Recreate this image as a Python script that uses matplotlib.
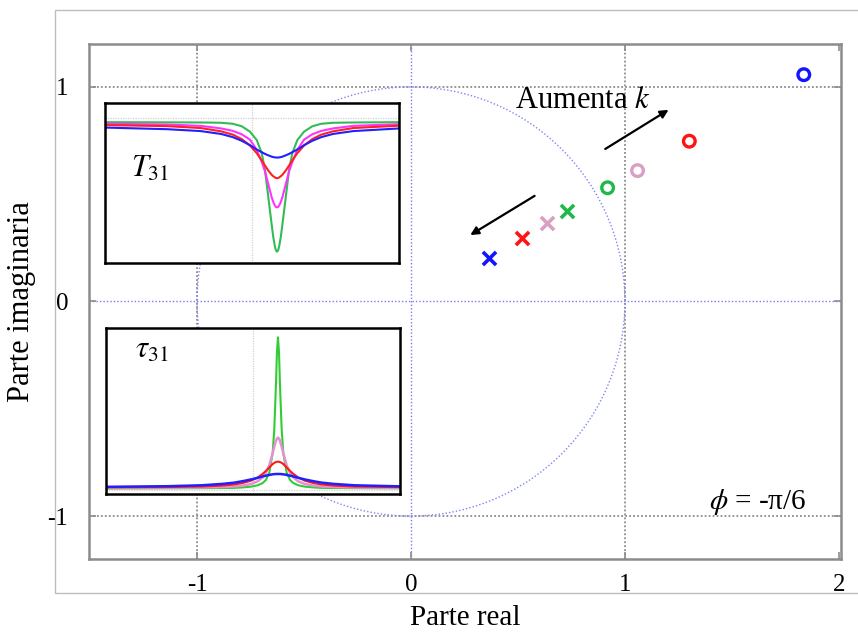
import matplotlib
matplotlib.use("Agg")
import matplotlib.pyplot as plt
from matplotlib.patches import Circle, Rectangle

plt.rcParams['font.family'] = ['Liberation Serif', 'DejaVu Serif']
plt.rcParams['mathtext.fontset'] = 'stix'
plt.rcParams['axes.unicode_minus'] = False

# poles (o) and zeros (x); colour order blue, red, pink, green
pole_re = [1.836, 1.301, 1.059, 0.919]
pole_im = [1.057, 0.747, 0.610, 0.530]
zero_re = [0.366, 0.517, 0.634, 0.729]
zero_im = [0.204, 0.295, 0.365, 0.420]
mark_colors = ['#1414ff', '#ff1414', '#d9a0c4', '#1fb84a']

x_ticks = [-1, 0, 1, 2]
x_ticklabels = ['-1', '0', '1', '2']
y_ticks = [-1, 0, 1]
y_ticklabels = ['-1', '0', '1']

# inset curves (shared frequency axis)
freq = [-1.0, -0.58, -0.35, -0.21, -0.13, -0.07, -0.014, 0.032, 0.066, 0.088,
        0.111, 0.134, 0.145, 0.156, 0.163, 0.17, 0.177, 0.184, 0.195, 0.206,
        0.229, 0.252, 0.274, 0.308, 0.354, 0.41, 0.47, 0.55, 0.69, 1.0]

T31_green = [0.968, 0.967, 0.966, 0.964, 0.957, 0.94, 0.903, 0.845, 0.755, 0.64,
             0.45, 0.26, 0.175, 0.112, 0.086, 0.078, 0.086, 0.112, 0.175, 0.26,
             0.45, 0.64, 0.755, 0.845, 0.903, 0.94, 0.957, 0.964, 0.966, 0.968]
T31_magenta = [0.957, 0.952, 0.943, 0.925, 0.908, 0.885, 0.848, 0.778, 0.695, 0.63,
               0.54, 0.45, 0.418, 0.394, 0.385, 0.382, 0.385, 0.394, 0.418, 0.45,
               0.54, 0.63, 0.695, 0.778, 0.848, 0.885, 0.908, 0.925, 0.943, 0.954]
T31_red = [0.948, 0.941, 0.928, 0.905, 0.882, 0.852, 0.808, 0.755, 0.705, 0.67,
           0.635, 0.606, 0.596, 0.588, 0.584, 0.583, 0.584, 0.588, 0.596, 0.606,
           0.635, 0.67, 0.705, 0.755, 0.808, 0.852, 0.882, 0.905, 0.928, 0.944]
T31_blue = [0.931, 0.92, 0.907, 0.887, 0.865, 0.84, 0.81, 0.78, 0.762, 0.75,
            0.74, 0.731, 0.728, 0.726, 0.725, 0.725, 0.725, 0.726, 0.728, 0.731,
            0.74, 0.75, 0.762, 0.78, 0.81, 0.84, 0.865, 0.887, 0.907, 0.925]

tau31_green = [0.01, 0.011, 0.012, 0.013, 0.014, 0.017, 0.022, 0.031, 0.046, 0.066,
               0.114, 0.245, 0.40, 0.68, 0.90, 1.0, 0.90, 0.68, 0.40, 0.245,
               0.114, 0.066, 0.046, 0.031, 0.022, 0.017, 0.014, 0.013, 0.012, 0.011]
tau31_pink = [0.014, 0.015, 0.0165, 0.02, 0.023, 0.029, 0.039, 0.057, 0.083, 0.113,
              0.163, 0.241, 0.285, 0.322, 0.337, 0.343, 0.337, 0.322, 0.285, 0.241,
              0.163, 0.113, 0.083, 0.057, 0.039, 0.029, 0.023, 0.02, 0.0165, 0.0145]
tau31_red = [0.0175, 0.0195, 0.023, 0.029, 0.036, 0.046, 0.061, 0.082, 0.106, 0.125,
             0.148, 0.170, 0.178, 0.183, 0.185, 0.186, 0.185, 0.183, 0.178, 0.170,
             0.148, 0.125, 0.106, 0.082, 0.061, 0.046, 0.036, 0.029, 0.023, 0.019]
tau31_blue = [0.021, 0.025, 0.031, 0.040, 0.048, 0.058, 0.069, 0.080, 0.089, 0.094,
              0.099, 0.103, 0.104, 0.105, 0.105, 0.105, 0.105, 0.105, 0.104, 0.103,
              0.099, 0.094, 0.089, 0.080, 0.069, 0.058, 0.048, 0.040, 0.031, 0.024]

fig = plt.figure(figsize=(8.58, 6.33), dpi=100)

# light grey border around the whole picture
fig.patches.append(Rectangle((0.064, 0.063), 1.0, 0.921, transform=fig.transFigure,
                             fill=False, edgecolor='#bdbdbd', linewidth=1.0))

ax = fig.add_axes([0.1037, 0.1169, 0.8765, 0.8136])
ax.set_xlim(-1.505, 2.01)
ax.set_ylim(-1.2, 1.2)

grey = '#8c8c8c'
for v in [-1, 1]:
    ax.axvline(v, color=grey, lw=1.3, ls=(0, (1, 1.2)), zorder=1)
    ax.axhline(v, color=grey, lw=1.3, ls=(0, (1, 1.2)), zorder=1)
ax.axvline(0, color='#7a7aee', lw=1.0, ls=(0, (1, 1.5)), zorder=1)
ax.axhline(0, color='#7a7aee', lw=1.0, ls=(0, (1, 1.5)), zorder=1)

ax.add_patch(Circle((0, 0), 1.0, fill=False, edgecolor='#7f86f2', lw=1.0,
                    ls=(0, (1, 1.5)), zorder=1))

for i in range(4):
    ax.scatter(pole_re[i], pole_im[i], s=70, marker='o', facecolors='none',
               edgecolors=mark_colors[i], linewidths=2.4, zorder=3)
    ax.scatter(zero_re[i], zero_im[i], s=90, marker='x', color=mark_colors[i],
               linewidths=2.6, zorder=3)

arrow = dict(arrowstyle='-|>', color='black', lw=1.6, mutation_scale=12)
ax.annotate('', xy=(1.215, 0.900), xytext=(0.897, 0.704), arrowprops=arrow)
ax.annotate('', xy=(0.266, 0.303), xytext=(0.589, 0.499), arrowprops=arrow)
ax.text(0.486, 0.90, 'Aumenta $k$', fontsize=22, ha='left', va='baseline')
ax.text(1.85, -0.965, r'$\phi$ = -π/6', fontsize=21, ha='right', va='baseline')

ax.set_xticks(x_ticks)
ax.set_xticklabels(x_ticklabels)
ax.set_yticks(y_ticks)
ax.set_yticklabels(y_ticklabels)
ax.tick_params(direction='in', length=5, width=1.2, color=grey, labelsize=18,
               top=True, right=True)
ax.tick_params(axis='x', pad=11)
ax.tick_params(axis='y', pad=15)
for s in ax.spines.values():
    s.set_color(grey)
    s.set_linewidth(1.8)

ax.set_xlabel('Parte real', fontsize=21, labelpad=6)
ax.set_ylabel('Parte imaginaria', fontsize=22, labelpad=8)

# inset 1: T31
ins1 = fig.add_axes([0.1224, 0.5845, 0.3427, 0.2528])
ins1.set_xlim(-1, 1)
ins1.set_ylim(0, 1.1)
ins1.axvline(0, color='#d0d0d0', lw=0.9, ls=(0, (1, 1)))
ins1.axhline(1.0, color='#d0d0d0', lw=0.9, ls=(0, (1, 1)))
ins1.plot(freq, T31_green, color='#33bb55', lw=1.5)
ins1.plot(freq, T31_magenta, color='#ff33ff', lw=1.5)
ins1.plot(freq, T31_red, color='#ff2020', lw=1.5)
ins1.plot(freq, T31_blue, color='#2020ff', lw=1.5)
ins1.text(0.088, 0.54, '$T_{31}$', transform=ins1.transAxes, fontsize=22,
          ha='left', va='baseline')

# inset 2: tau31
ins2 = fig.add_axes([0.1235, 0.2196, 0.3427, 0.2622])
ins2.set_xlim(-1, 1)
ins2.set_ylim(-0.026, 1.061)
ins2.axvline(0, color='#d0d0d0', lw=0.9, ls=(0, (1, 1)))
ins2.axhline(0.0, color='#d0d0d0', lw=0.9, ls=(0, (1, 1)))
ins2.plot(freq, tau31_green, color='#33cc33', lw=1.5)
ins2.plot(freq, tau31_pink, color='#e590d5', lw=1.8)
ins2.plot(freq, tau31_red, color='#ff1a1a', lw=1.5)
ins2.plot(freq, tau31_blue, color='#2020ff', lw=1.8)
ins2.text(0.099, 0.82, r'$\tau_{31}$', transform=ins2.transAxes, fontsize=22,
          ha='left', va='baseline')

for a in [ins1, ins2]:
    a.set_xticks([])
    a.set_yticks([])
    for s in a.spines.values():
        s.set_color('black')
        s.set_linewidth(1.8)

fig.savefig('out.png', dpi=100)
